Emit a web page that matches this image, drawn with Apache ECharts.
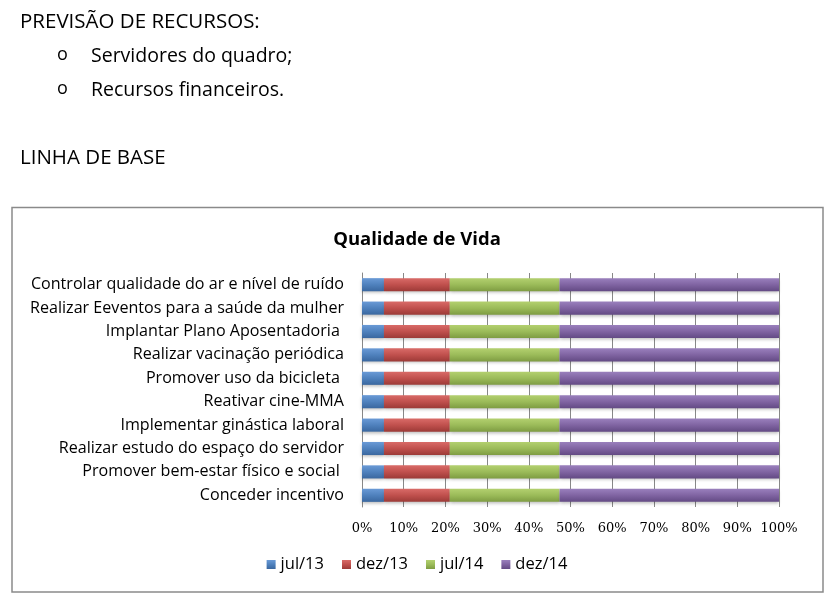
<!DOCTYPE html>
<html><head><meta charset="utf-8">
<script src="https://cdn.jsdelivr.net/npm/echarts@6/dist/echarts.min.js"></script>
<style>html,body{margin:0;padding:0;background:#fff;}#c{width:834px;height:610px;}</style>
</head><body><div id="c"></div>
<script>
const categories = [
  "Controlar qualidade do ar e nível de ruído",
  "Realizar Eeventos para a saúde da mulher",
  "Implantar Plano Aposentadoria ",
  "Realizar vacinação periódica",
  "Promover uso da bicicleta ",
  "Reativar cine-MMA",
  "Implementar ginástica laboral",
  "Realizar estudo do espaço do servidor",
  "Promover bem-estar físico e social ",
  "Conceder incentivo"
];
const seriesNames = ["jul/13", "dez/13", "jul/14", "dez/14"];
const jul13 = [1,1,1,1,1,1,1,1,1,1];
const dez13 = [3,3,3,3,3,3,3,3,3,3];
const jul14 = [5,5,5,5,5,5,5,5,5,5];
const dez14 = [10,10,10,10,10,10,10,10,10,10];
const xTicks = ["0%","10%","20%","30%","40%","50%","60%","70%","80%","90%","100%"];

const raw = [jul13, dez13, jul14, dez14];
const totals = categories.map((_, i) => raw.reduce((s, a) => s + a[i], 0));
const pct = raw.map(a => a.map((v, i) => v / totals[i] * 100));
const colors = [["#6a9ad6","#4F81BD","#3a679f"],["#d96b68","#C0504D","#9c3a37"],["#b3d06f","#9BBB59","#7e9c42"],["#9a80bd","#8064A2","#634a84"]];
const FONT = "'Open Sans', 'Noto Sans', sans-serif";

const chart = echarts.init(document.getElementById('c'), null, {renderer:'canvas'});
chart.setOption({
  animation:false,
  graphic:[
    {type:'text', left:20, top:12, style:{text:"PREVISÃO DE RECURSOS:", font:"20.5px "+FONT, fill:"#000"}},
    {type:'text', left:57, top:46, style:{text:"o", font:"18px "+FONT, fill:"#000"}},
    {type:'text', left:91, top:46.5, style:{text:"Servidores do quadro;", font:"19.5px "+FONT, fill:"#000"}},
    {type:'text', left:57, top:80, style:{text:"o", font:"18px "+FONT, fill:"#000"}},
    {type:'text', left:91, top:80.5, style:{text:"Recursos financeiros.", font:"19.5px "+FONT, fill:"#000"}},
    {type:'text', left:20, top:148, style:{text:"LINHA DE BASE", font:"20.5px "+FONT, fill:"#000"}},
    {type:'rect', shape:{x:12, y:207.5, width:811, height:384.5}, style:{fill:'none', stroke:'#8a8a8a', lineWidth:1.5}, z:-1}
  ],
  title:{text:"Qualidade de Vida", left:'center', top:225, textStyle:{fontFamily:FONT, fontSize:18.5, fontWeight:'bold', color:'#000'}},
  legend:{data:seriesNames, bottom:32, left:'center', icon:'rect', itemWidth:9, itemHeight:9, itemGap:18,
    textStyle:{fontFamily:FONT, fontSize:16.5, color:'#000'}},
  grid:{left:362, right:55, top:273, height:234, containLabel:false},
  xAxis:{type:'value', min:0, max:100, interval:10,
    axisLabel:{formatter:(v)=>xTicks[Math.round(v/10)], fontFamily:"'DejaVu Serif', 'Liberation Serif', serif", fontSize:13, color:'#000', margin:15},
    splitLine:{show:true, lineStyle:{color:'#888', width:1}},
    axisLine:{show:false}, axisTick:{show:false}},
  yAxis:{type:'category', data:categories, inverse:true,
    axisLabel:{fontFamily:FONT, fontSize:16.1, color:'#000', margin:18},
    axisLine:{show:true, lineStyle:{color:'#888'}}, axisTick:{show:false}},
  series: seriesNames.map((n, k) => ({
    name:n, type:'bar', stack:'t', barWidth:'56%', data:pct[k],
    itemStyle:{color:new echarts.graphic.LinearGradient(0,0,0,1,[{offset:0,color:colors[k][0]},{offset:0.5,color:colors[k][1]},{offset:1,color:colors[k][2]}]),
      shadowColor:'rgba(0,0,0,0.25)', shadowBlur:3, shadowOffsetY:2}
  })),
  color: colors.map(c=>c[1])
});
</script></body></html>
